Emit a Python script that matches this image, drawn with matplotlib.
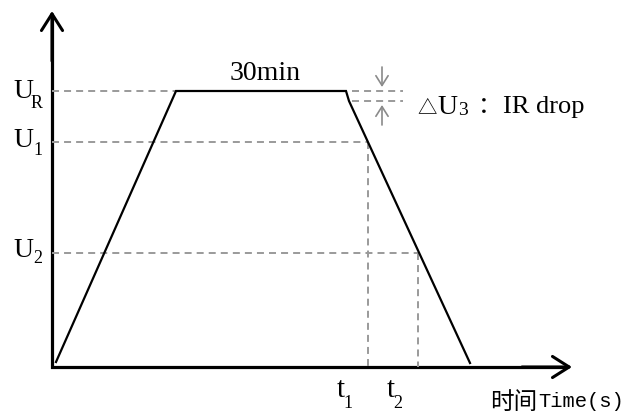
import matplotlib
matplotlib.use("Agg")
import matplotlib.pyplot as plt

# ---- data (schematic, arbitrary units) ----
curve_t = [0.04, 1.24, 2.94, 2.97, 4.18]
curve_u = [0.05, 2.76, 2.76, 2.66, 0.04]
U_R = 2.76
U_drop = 2.66
U_1 = 2.25
U_2 = 1.14
t_1 = 3.16
t_2 = 3.66
t_R = 1.24
ir_x = [3.00, 3.51]
ir_arrow_x = 3.30
axis_x_max = 5.20
axis_y_max = 3.56
u_subs = ['R', '1', '2']
t_subs = ['1', '2']

fig = plt.figure(figsize=(6.26, 4.14), dpi=100)
ax = fig.add_axes([0, 0, 1, 1])
ax.set_xlim(-0.52, 5.74)
ax.set_ylim(-0.46, 3.68)
ax.axis('off')

serif = ['Liberation Serif', 'DejaVu Sans']
grey = '#9a9a9a'
dash = dict(color=grey, lw=1.4, dashes=(3.6, 2.6))

# axes
ax.plot([0, 0, axis_x_max - 0.05], [axis_y_max - 0.05, 0, 0], color='black', lw=2.3,
        solid_joinstyle='miter', solid_capstyle='butt')
arrow_ax = dict(arrowstyle='->,head_length=0.6,head_width=0.38', lw=2.2, color='black',
                mutation_scale=20, shrinkA=0, shrinkB=0)
ax.annotate('', xy=(0, axis_y_max), xytext=(0, axis_y_max - 0.5), arrowprops=arrow_ax)
ax.annotate('', xy=(axis_x_max, 0), xytext=(axis_x_max - 0.5, 0), arrowprops=arrow_ax)

# dashed guides
ax.plot([0, t_R], [U_R, U_R], **dash)
ax.plot([0, t_1], [U_1, U_1], **dash)
ax.plot([0, t_2], [U_2, U_2], **dash)
ax.plot([t_1, t_1], [U_1, 0], **dash)
ax.plot([t_2, t_2], [U_2, 0], **dash)
ax.plot(ir_x, [U_R, U_R], **dash)
ax.plot(ir_x, [U_drop, U_drop], **dash)

# main curve
ax.plot(curve_t, curve_u, color='black', lw=1.6, solid_joinstyle='miter')

# IR drop arrows
arrow_g = dict(arrowstyle='->,head_length=0.35,head_width=0.22', lw=1.2, color='#8a8a8a',
               mutation_scale=20, shrinkA=0, shrinkB=0)
ax.annotate('', xy=(ir_arrow_x, U_R + 0.04), xytext=(ir_arrow_x, U_R + 0.24), arrowprops=arrow_g)
ax.annotate('', xy=(ir_arrow_x, U_drop - 0.04), xytext=(ir_arrow_x, U_drop - 0.24), arrowprops=arrow_g)

# voltage labels: U with subscript
for sub, u, off, soff, sx in zip(u_subs, [U_R, U_1, U_2], [0.06, 0.04, 0.03],
                                 [0.16, 0.12, 0.09], [-0.21, -0.19, -0.19]):
    ax.text(-0.39, u - off, 'U', fontsize=20, ha='left', va='baseline', family=serif)
    ax.text(sx, u - soff, sub, fontsize=13, ha='left', va='baseline', family=serif)

# time labels: t with subscript
for sub, t in zip(t_subs, [t_1, t_2]):
    ax.text(t - 0.31, -0.29, 't', fontsize=21, ha='left', va='baseline', family=serif)
    ax.text(t - 0.245, -0.40, sub, fontsize=13, ha='left', va='baseline', family=serif)

ax.text(2.13, 2.88, '30min', fontsize=20, ha='center', va='baseline', family=serif)

ax.text(3.655, 2.545, '△', fontsize=14, ha='left', va='baseline', family=['Noto Sans CJK SC'])
ax.text(3.85, 2.54, 'U', fontsize=20, ha='left', va='baseline', family=serif)
ax.text(4.06, 2.53, '3', fontsize=14, ha='left', va='baseline', family=serif)
ax.text(4.26, 2.55, '：', fontsize=17, ha='left', va='baseline', family=['Noto Sans CJK SC'])
ax.text(4.51, 2.55, 'IR drop', fontsize=19, ha='left', va='baseline', family=serif)

ax.text(4.38, -0.41, '时间', fontsize=17, ha='left', va='baseline', family=['Noto Sans CJK SC'])
ax.text(4.86, -0.39, 'Time(s)', fontsize=14.8, ha='left', va='baseline', family=['Liberation Mono'])

fig.savefig('out.png', dpi=100)
